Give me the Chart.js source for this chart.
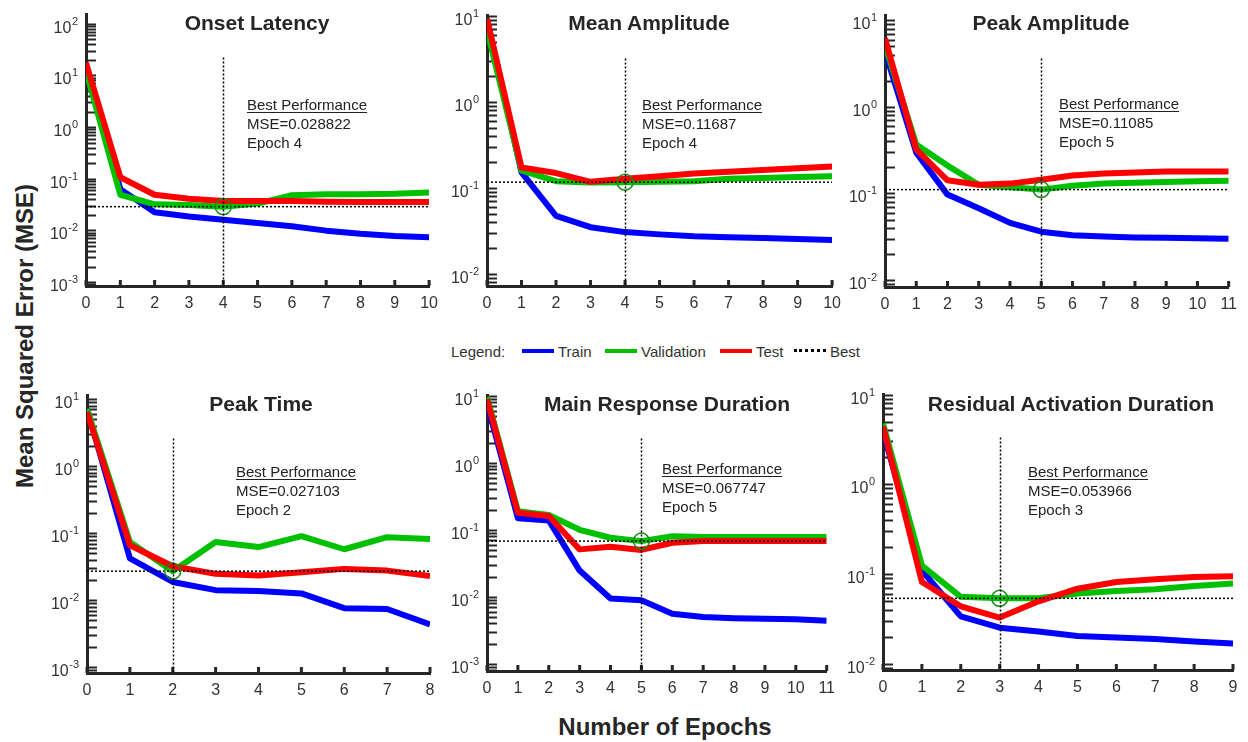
<!doctype html>
<html lang="en">
<head>
<meta charset="utf-8">
<title>Training performance</title>
<style>
  * { margin: 0; padding: 0; }
  body { background: #fff; }
  #page { position: relative; width: 1248px; height: 742px; overflow: hidden; background: #fff;
          font-family: "Liberation Sans", Arial, sans-serif; color: #262626; }
  #page canvas { position: absolute; }
  .title { position: absolute; transform: translate(-50%, -50%); font-weight: bold; font-size: 21px; white-space: nowrap; }
  .note { position: absolute; font-size: 15px; line-height: 19px; color: #222; white-space: nowrap; }
  .note u { text-underline-offset: 2px; }
  .axlabel { position: absolute; font-weight: bold; font-size: 24px; white-space: nowrap; transform: translate(-50%, -50%); }
  .legend { position: absolute; font-size: 15px; color: #333; white-space: nowrap; transform: translateY(-50%); }
  .lline { position: absolute; height: 0; }
</style>
</head>
<body>
<div id="page">
  <div class="axlabel" style="left:25px; top:336px; transform: translate(-50%, -50%) rotate(-90deg);">Mean Squared Error (MSE)</div>
  <div class="axlabel" style="left:665px; top:727px;">Number of Epochs</div>

  <div class="legend" style="left:451px; top:351px;">Legend:</div>
  <div class="lline" style="left:522px; top:349px; width:32px; border-top:4px solid #0000ff;"></div>
  <div class="legend" style="left:558px; top:351px;">Train</div>
  <div class="lline" style="left:605px; top:349px; width:32px; border-top:4px solid #00c000;"></div>
  <div class="legend" style="left:641px; top:351px;">Validation</div>
  <div class="lline" style="left:720px; top:349px; width:32px; border-top:4px solid #ff0000;"></div>
  <div class="legend" style="left:756px; top:351px;">Test</div>
  <div class="lline" style="left:794px; top:349px; width:32px; border-top:3px dotted #000;"></div>
  <div class="legend" style="left:830px; top:351px;">Best</div>
</div>

<script src="https://cdn.jsdelivr.net/npm/chart.js"></script>
<script>
// data: one value per epoch, epoch = array index
const onsetTrain = [15, 0.063, 0.0225, 0.0186, 0.0161, 0.0139, 0.012, 0.0099, 0.0086, 0.0078, 0.0074];
const onsetVal   = [12.2, 0.049, 0.032, 0.031, 0.028822, 0.033, 0.048, 0.05, 0.05, 0.051, 0.054];
const onsetTest  = [17.5, 0.107, 0.049, 0.041, 0.037, 0.037, 0.037, 0.036, 0.0354, 0.0354, 0.0354];

const meanAmpTrain = [9, 0.152, 0.0475, 0.035, 0.0307, 0.0289, 0.0274, 0.0267, 0.0262, 0.0256, 0.0249];
const meanAmpVal   = [6.8, 0.159, 0.12, 0.116, 0.11687, 0.118, 0.12, 0.128, 0.131, 0.134, 0.137];
const meanAmpTest  = [9.3, 0.173, 0.149, 0.118, 0.128, 0.137, 0.147, 0.154, 0.162, 0.17, 0.178];

const peakAmpTrain = [4.4, 0.296, 0.097, 0.0676, 0.0457, 0.0362, 0.0329, 0.0318, 0.031, 0.0307, 0.0304, 0.0299];
const peakAmpVal   = [5.2, 0.368, 0.21, 0.126, 0.118, 0.11085, 0.123, 0.13, 0.133, 0.136, 0.138, 0.14];
const peakAmpTest  = [6.2, 0.323, 0.142, 0.126, 0.13, 0.144, 0.161, 0.17, 0.175, 0.18, 0.18, 0.18];

const peakTimeTrain = [7.2, 0.042, 0.0187, 0.0141, 0.0137, 0.0126, 0.0076, 0.0074, 0.00434];
const peakTimeVal   = [7.1, 0.074, 0.027103, 0.074, 0.062, 0.09, 0.0575, 0.087, 0.082];
const peakTimeTest  = [6.4, 0.066, 0.032, 0.0247, 0.0234, 0.026, 0.0293, 0.0276, 0.0229];

const mainDurTrain = [7.7, 0.149, 0.138, 0.0246, 0.0094, 0.0089, 0.0056, 0.005, 0.0048, 0.0047, 0.0046, 0.0044];
const mainDurVal   = [9.6, 0.19, 0.166, 0.1, 0.076, 0.067747, 0.08, 0.078, 0.078, 0.078, 0.078, 0.078];
const mainDurTest  = [8.9, 0.18, 0.161, 0.051, 0.056, 0.05, 0.064, 0.068, 0.068, 0.068, 0.068, 0.068];

const residTrain = [3.85, 0.11, 0.034, 0.0254, 0.023, 0.0206, 0.0198, 0.019, 0.0179, 0.017];
const residVal   = [4.75, 0.125, 0.056, 0.053966, 0.054, 0.061, 0.065, 0.068, 0.074, 0.079];
const residTest  = [4.4, 0.082, 0.044, 0.033, 0.05, 0.069, 0.082, 0.088, 0.093, 0.095];

const panelTitles = ['Onset Latency', 'Mean Amplitude', 'Peak Amplitude',
                     'Peak Time', 'Main Response Duration', 'Residual Activation Duration'];
const trainSets = [onsetTrain, meanAmpTrain, peakAmpTrain, peakTimeTrain, mainDurTrain, residTrain];
const valSets   = [onsetVal, meanAmpVal, peakAmpVal, peakTimeVal, mainDurVal, residVal];
const testSets  = [onsetTest, meanAmpTest, peakAmpTest, peakTimeTest, mainDurTest, residTest];
const bestEpochs = [4, 4, 5, 2, 5, 3];
const bestMse    = [0.028822, 0.11687, 0.11085, 0.027103, 0.067747, 0.053966];
const yMins = [8.4e-4, 0.00726, 0.0083, 8.2e-4, 7.8e-4, 0.0086];
const yMaxs = [151, 10.1, 11.4, 11.3, 10.1, 10];

// layout: plot box [left, top, right, bottom] in page pixels, title centre, note position
const areas = [
  [86, 9, 430, 286], [487, 10, 833, 286], [885, 10, 1229, 287],
  [87, 390, 430, 673], [487, 390, 827, 671], [883, 389, 1233, 670]
];
const titlePos = [[257, 23], [649, 23], [1051, 23], [261, 404], [667, 404], [1071, 404]];
const notePos  = [[247, 95], [642, 95], [1059, 94], [236, 462], [662, 459], [1028, 462]];

const FONT = '"Liberation Sans", Arial, sans-serif';
const AX = '#262626';
const page = document.getElementById('page');

const axesPlugin = {
  id: 'matlabAxes',
  beforeDatasetsDraw(chart) {
    const { ctx, chartArea: { left, bottom }, scales: { x, y } } = chart;
    ctx.save();
    ctx.strokeStyle = AX;
    ctx.fillStyle = '#333';
    const k0 = Math.floor(Math.log10(y.min)), k1 = Math.ceil(Math.log10(y.max));
    for (let k = k0; k <= k1; k++) {
      for (let m = 1; m <= 9; m++) {
        const v = m * Math.pow(10, k);
        if (v < y.min * 0.999 || v > y.max * 1.001) continue;
        const py = Math.round(y.getPixelForValue(v)) + 0.5;
        ctx.lineWidth = 2;
        ctx.beginPath(); ctx.moveTo(left, py); ctx.lineTo(left + 10, py); ctx.stroke();
        if (m === 1) {
          const ex = String(k);
          ctx.textBaseline = 'middle';
          ctx.textAlign = 'right';
          ctx.font = '11px ' + FONT;
          const ew = ctx.measureText(ex).width;
          ctx.fillText(ex, left - 8, py - 3);
          ctx.font = '16px ' + FONT;
          ctx.fillText('10', left - 8 - ew - 0.5, py + 4);
        }
      }
    }
    ctx.lineWidth = 3;
    for (let e = x.min; e <= x.max; e++) {
      const px = x.getPixelForValue(e);
      ctx.beginPath(); ctx.moveTo(px, bottom); ctx.lineTo(px, bottom - 6); ctx.stroke();
    }
    ctx.restore();
  },
  afterDatasetsDraw(chart, args, opts) {
    const { ctx, chartArea: { top, bottom }, scales: { x } } = chart;
    const px = Math.round(x.getPixelForValue(opts.bestEpoch)) + 0.5;
    ctx.save();
    ctx.strokeStyle = '#000';
    ctx.lineWidth = 1.5;
    ctx.setLineDash([2, 2]);
    ctx.beginPath(); ctx.moveTo(px, top + 43); ctx.lineTo(px, bottom); ctx.stroke();
    ctx.restore();
  }
};

function pts(arr) { return arr.map((v, i) => ({ x: i, y: v })); }

function makePanel(i) {
  const [L, T, R, B] = areas[i];
  const padL = 50, padT = 4, padR = 16, padB = 30;
  const n = trainSets[i].length - 1;
  const cv = document.createElement('canvas');
  cv.width = R - L + padL + padR;
  cv.height = B - T + padT + padB;
  cv.style.left = (L - padL) + 'px';
  cv.style.top = (T - padT) + 'px';
  page.appendChild(cv);

  const line = (data, color, order) => ({
    data: pts(data), borderColor: color, borderWidth: 6, pointRadius: 0,
    tension: 0, borderJoinStyle: 'round', order
  });

  new Chart(cv, {
    type: 'line',
    data: {
      datasets: [
        { data: [{ x: bestEpochs[i], y: bestMse[i] }], showLine: false, pointRadius: 8,
          pointBorderWidth: 1.5, pointBorderColor: 'rgb(20,140,20)', pointBackgroundColor: 'rgba(0,0,0,0)', order: 0 },
        { data: [{ x: 0, y: bestMse[i] }, { x: n, y: bestMse[i] }], borderColor: '#000', borderWidth: 1.5,
          borderDash: [2, 2], pointRadius: 0, order: 1 },
        line(testSets[i], '#ff0000', 2),
        line(valSets[i], '#00c000', 3),
        line(trainSets[i], '#0000ff', 4)
      ]
    },
    options: {
      responsive: false,
      animation: false,
      devicePixelRatio: 1,
      events: [],
      layout: { padding: { top: padT, right: padR, left: 0, bottom: 0 } },
      plugins: {
        legend: { display: false },
        tooltip: { enabled: false },
        matlabAxes: { bestEpoch: bestEpochs[i] }
      },
      scales: {
        x: {
          type: 'linear', min: 0, max: n,
          grid: { display: false, drawTicks: false },
          border: { display: true, color: AX, width: 3 },
          ticks: { stepSize: 1, autoSkip: false, maxRotation: 0, padding: 8, color: '#333',
                   font: { size: 16, family: FONT } },
          afterFit: s => { s.height = padB; }
        },
        y: {
          type: 'logarithmic', min: yMins[i], max: yMaxs[i],
          grid: { display: false, drawTicks: false },
          border: { display: true, color: AX, width: 3 },
          ticks: { display: false },
          afterFit: s => { s.width = padL; }
        }
      }
    },
    plugins: [axesPlugin]
  });

  const t = document.createElement('div');
  t.className = 'title';
  t.style.left = titlePos[i][0] + 'px';
  t.style.top = titlePos[i][1] + 'px';
  t.textContent = panelTitles[i];
  page.appendChild(t);

  const note = document.createElement('div');
  note.className = 'note';
  note.style.left = notePos[i][0] + 'px';
  note.style.top = notePos[i][1] + 'px';
  note.innerHTML = '<u>Best Performance</u><br>MSE=' + bestMse[i] + '<br>Epoch ' + bestEpochs[i];
  page.appendChild(note);
}

for (let i = 0; i < 6; i++) makePanel(i);
</script>
</body>
</html>
